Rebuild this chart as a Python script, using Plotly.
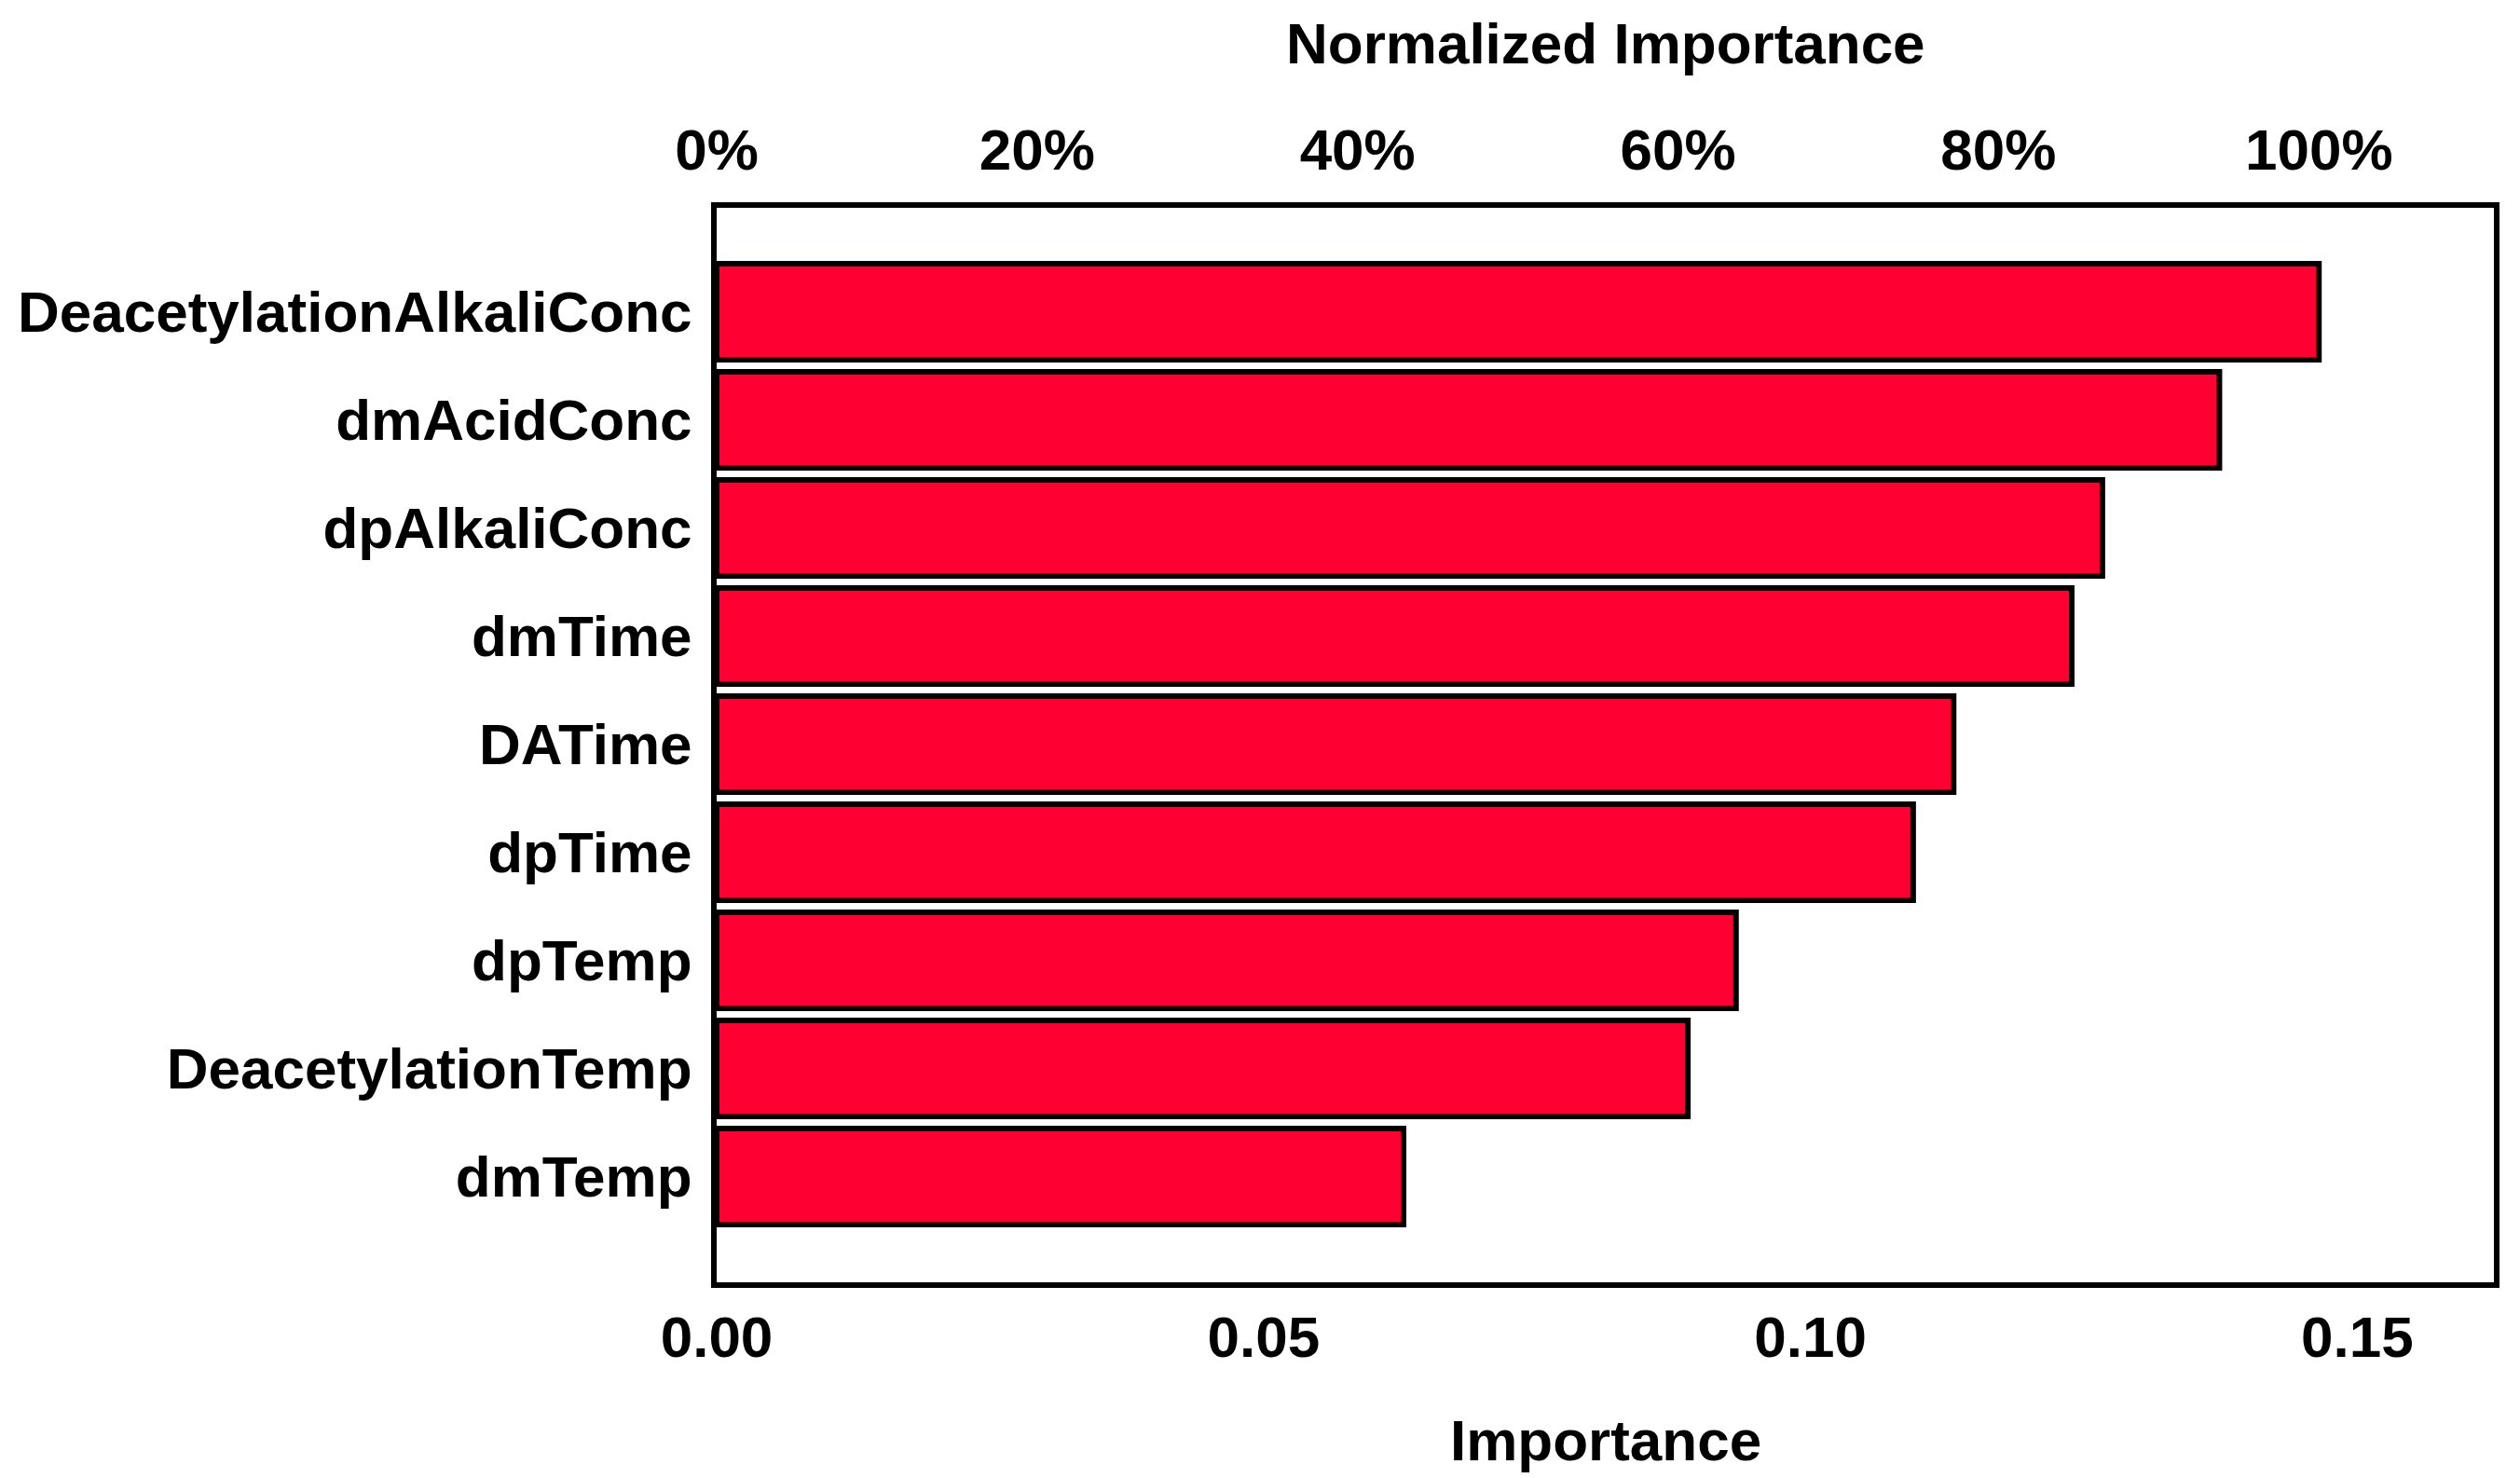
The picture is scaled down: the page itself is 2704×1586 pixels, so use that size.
import plotly.graph_objects as go

categories = ["DeacetylationAlkaliConc", "dmAcidConc", "dpAlkaliConc", "dmTime",
              "DATime", "dpTime", "dpTemp", "DeacetylationTemp", "dmTemp"]
importance = [0.1465, 0.1374, 0.1267, 0.1239, 0.1131, 0.1094, 0.0932, 0.0888, 0.0628]
x_ticks = [0.00, 0.05, 0.10, 0.15]
x_tick_labels = ["0.00", "0.05", "0.10", "0.15"]
pct_ticks = [0, 20, 40, 60, 80, 100]
bottom_title = "Importance"
top_title = "Normalized Importance"

X_MAX = 0.1625
max_imp = max(importance)
normalized = [v / max_imp * 100 for v in importance]

FONT = "Liberation Sans, Arial, sans-serif"
FS = 62

fig = go.Figure()
fig.add_trace(go.Bar(
    x=importance, y=categories, orientation="h",
    marker=dict(color="#FF0033", line=dict(color="black", width=6)),
    width=0.888, xaxis="x", yaxis="y", showlegend=False,
))
fig.add_trace(go.Scatter(
    x=normalized, y=categories, mode="markers",
    marker=dict(opacity=0, size=1), xaxis="x2", yaxis="y",
    showlegend=False, hoverinfo="skip",
))

fig.update_layout(
    width=2704, height=1586,
    margin=dict(l=761, r=36, t=215, b=218),
    paper_bgcolor="white", plot_bgcolor="white",
    font=dict(family=FONT, size=FS, color="black", weight="bold"),
    xaxis=dict(
        range=[0, X_MAX], tickvals=x_ticks, ticktext=x_tick_labels,
        showgrid=False, zeroline=False,
        showline=True, linecolor="black", linewidth=6, mirror=True,
        ticks="", ticklabelstandoff=0,
        tickfont=dict(family=FONT, size=FS, weight="bold"),
    ),
    xaxis2=dict(
        overlaying="x", side="top",
        range=[0, X_MAX / max_imp * 100], tickvals=pct_ticks,
        ticktext=[f"{t}%" for t in pct_ticks],
        showgrid=False, zeroline=False, showline=False,
        ticks="", ticklabelstandoff=28,
        tickfont=dict(family=FONT, size=FS, weight="bold"),
    ),
    yaxis=dict(
        type="category", categoryorder="array", categoryarray=categories,
        range=[8.978, -0.961],
        showgrid=False, zeroline=False,
        showline=True, linecolor="black", linewidth=6, mirror=True,
        ticks="", ticklabelstandoff=8,
        tickfont=dict(family=FONT, size=FS, weight="bold"),
    ),
    annotations=[
        dict(text=bottom_title, xref="paper", yref="paper", x=0.5, y=0,
             xanchor="center", yanchor="middle", yshift=-169, showarrow=False,
             font=dict(family=FONT, size=FS, weight="bold", color="black")),
        dict(text=top_title, xref="paper", yref="paper", x=0.5, y=1,
             xanchor="center", yanchor="middle", yshift=177, showarrow=False,
             font=dict(family=FONT, size=FS, weight="bold", color="black")),
    ],
)

fig.write_html("out.html")
